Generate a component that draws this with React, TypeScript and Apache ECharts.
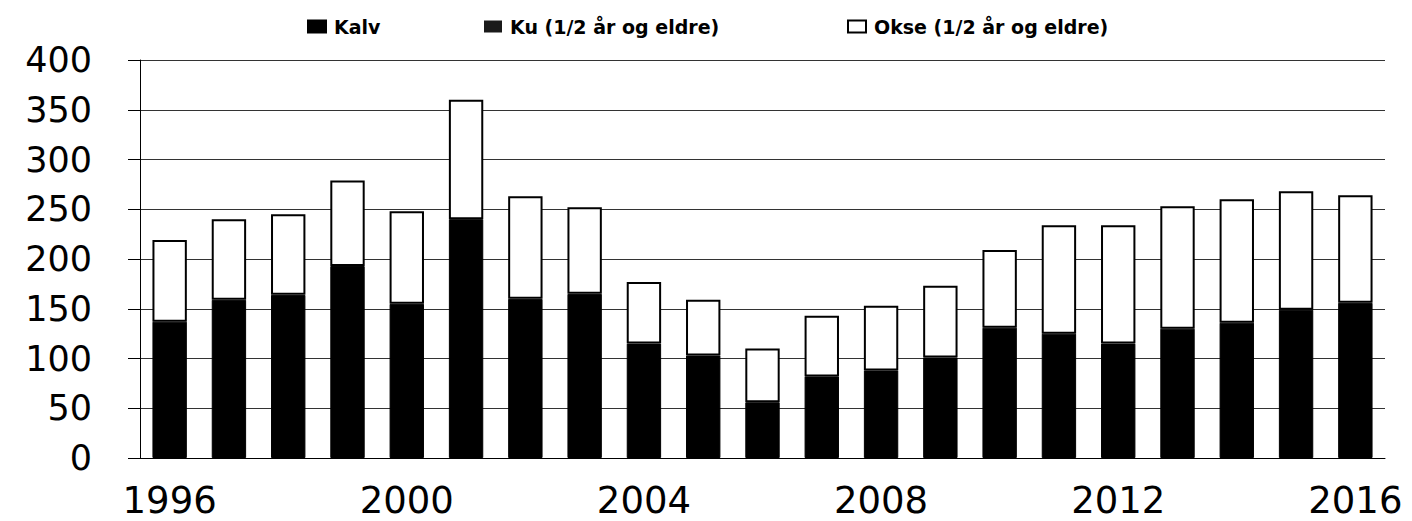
import React, { useEffect, useRef } from "react";
import * as echarts from "echarts";

const years = ["1996","1997","1998","1999","2000","2001","2002","2003","2004","2005","2006","2007","2008","2009","2010","2011","2012","2013","2014","2015","2016"];
const kalv = [137, 159, 164, 193, 155, 240, 160, 165, 115, 103, 56, 82, 88, 101, 131, 125, 115, 130, 136, 149, 156];
const ku = [0, 0, 0, 0, 0, 0, 0, 0, 0, 0, 0, 0, 0, 0, 0, 0, 0, 0, 0, 0, 0];
const okse = [82, 81, 81, 86, 93, 120, 103, 87, 62, 56, 54, 61, 65, 72, 78, 109, 119, 123, 124, 119, 108];

const NAME_KALV = "Kalv";
const NAME_KU = "Ku (1/2 år og eldre)";
const NAME_OKSE = "Okse (1/2 år og eldre)";

export default function App() {
  const ref = useRef<HTMLDivElement>(null);
  useEffect(() => {
    if (!ref.current) return;
    const chart = echarts.init(ref.current, undefined, { renderer: "svg" });
    const legendBase = {
      top: 12,
      icon: "rect",
      itemWidth: 18,
      itemHeight: 12,
      itemGap: 6,
      textStyle: { fontFamily: "DejaVu Sans", fontWeight: "bold", fontSize: 19, color: "#000", padding: [0, 0, 0, 3] },
    };
    chart.setOption({
      animation: false,
      backgroundColor: "#fff",
      legend: [
        { ...legendBase, left: 302, data: [NAME_KALV] },
        { ...legendBase, left: 479, data: [NAME_KU] },
        { ...legendBase, left: 842, data: [NAME_OKSE] },
      ],
      grid: { left: 140, right: 27, top: 60, bottom: 63 },
      xAxis: {
        type: "category",
        data: years,
        axisLine: { lineStyle: { color: "#000", width: 1 } },
        axisTick: { show: false },
        axisLabel: {
          interval: 3,
          margin: 27,
          fontFamily: "DejaVu Sans",
          fontSize: 37,
          lineHeight: 30,
          color: "#000",
        },
      },
      yAxis: {
        type: "value",
        min: 0,
        max: 400,
        interval: 50,
        axisLine: { show: true, lineStyle: { color: "#000", width: 1 } },
        axisTick: { show: true, inside: false, length: 12, lineStyle: { color: "#000" } },
        splitLine: { lineStyle: { color: "#333", width: 1 } },
        axisLabel: {
          margin: 48,
          fontFamily: "DejaVu Sans",
          fontSize: 35,
          color: "#000",
        },
      },
      series: [
        {
          name: NAME_KALV,
          type: "bar",
          stack: "a",
          data: kalv,
          barWidth: "58%",
          itemStyle: { color: "#000", borderColor: "#000", borderWidth: 1 },
        },
        {
          name: NAME_KU,
          type: "bar",
          stack: "a",
          data: ku,
          itemStyle: { color: "#1a1a1a", borderWidth: 0 },
        },
        {
          name: NAME_OKSE,
          type: "bar",
          stack: "a",
          data: okse,
          itemStyle: { color: "#fff", borderColor: "#000", borderWidth: 2 },
        },
      ],
    });
    return () => chart.dispose();
  }, []);
  return <div ref={ref} style={{ position: "absolute", left: 0, top: 0, width: 1412, height: 521 }} />;
}
